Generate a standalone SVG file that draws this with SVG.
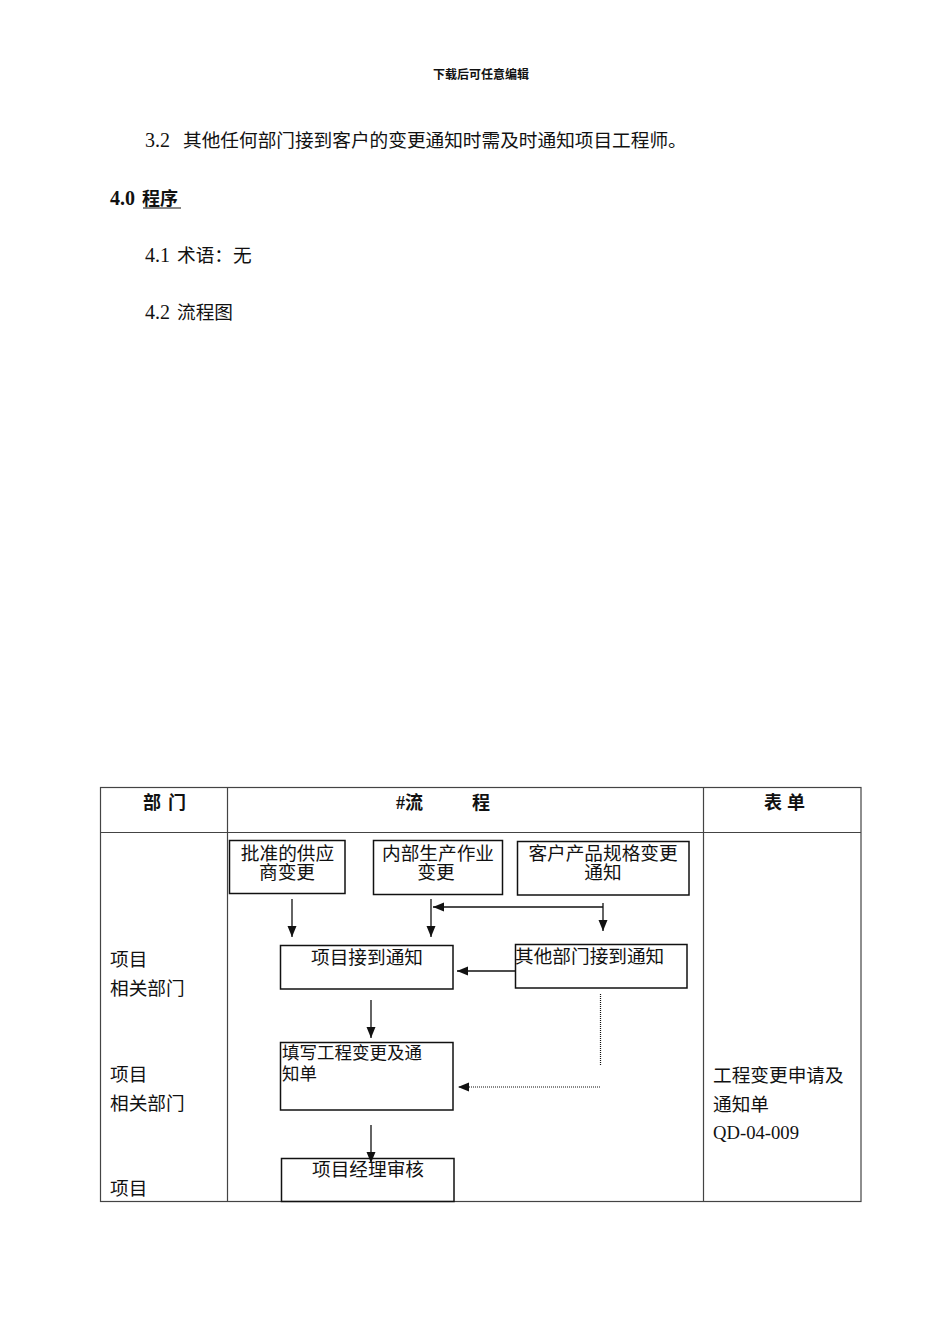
<svg xmlns="http://www.w3.org/2000/svg" width="950" height="1344" viewBox="0 0 950 1344">
<defs>
<style>
.t{font-family:"Liberation Serif","Noto Sans CJK SC",serif;font-size:18.67px;fill:#111;}
.ts{font-family:"Liberation Serif","Noto Sans CJK SC",serif;font-size:17.5px;fill:#111;}
.tb{font-family:"Liberation Serif","Noto Sans CJK SC",serif;font-size:18px;font-weight:bold;fill:#111;}
.hdr{font-family:"Noto Sans CJK SC",sans-serif;font-size:12px;font-weight:bold;fill:#111;}
.num{font-family:"Liberation Serif",serif;font-size:20px;fill:#111;}
.grid{stroke:#444;stroke-width:1.2;fill:none;}
.box{fill:none;stroke:#111;stroke-width:1.5;}
.ln{stroke:#111;stroke-width:1.3;fill:none;}
.dot{stroke:#111;stroke-width:1.2;fill:none;stroke-dasharray:1 1;}
.m{text-anchor:middle;}
</style>
<marker id="ah" markerUnits="userSpaceOnUse" markerWidth="12" markerHeight="10" refX="11" refY="4.5" orient="auto">
<path d="M0,0 L11,4.5 L0,9 z" fill="#111"/>
</marker>
</defs>
<rect width="950" height="1344" fill="#fff"/>

<text class="hdr m" x="481" y="79">下载后可任意编辑</text>
<text class="num" x="145" y="147">3.2</text>
<text class="t" x="183" y="147">其他任何部门接到客户的变更通知时需及时通知项目工程师。</text>
<text class="tb" x="110" y="205" style="font-size:20px">4.0</text>
<text class="tb" x="142" y="205">程序</text>
<line x1="143" y1="208" x2="181" y2="208" stroke="#111" stroke-width="1.2"/>
<text class="num" x="145" y="262">4.1</text>
<text class="t" x="177" y="262">术语：无</text>
<text class="num" x="145" y="319">4.2</text>
<text class="t" x="177" y="319">流程图</text>

<g id="table">
<rect class="grid" x="100.5" y="787.5" width="760.5" height="414"/>
<line class="grid" x1="100" y1="832.5" x2="861" y2="832.5"/>
<line class="grid" x1="227.5" y1="787" x2="227.5" y2="1201"/>
<line class="grid" x1="703.5" y1="787" x2="703.5" y2="1201"/>
<text class="tb" x="143" y="809">部</text>
<text class="tb" x="168" y="809">门</text>
<text class="tb" x="396" y="809">#流</text>
<text class="tb" x="472" y="809">程</text>
<text class="tb" x="764" y="809">表</text>
<text class="tb" x="787" y="809">单</text>
<text class="t" x="110" y="966">项目</text>
<text class="t" x="110" y="995">相关部门</text>
<text class="t" x="110" y="1081">项目</text>
<text class="t" x="110" y="1110">相关部门</text>
<text class="t" x="110" y="1195">项目</text>
<text class="t" x="713" y="1082">工程变更申请及</text>
<text class="t" x="713" y="1111">通知单</text>
<text class="t" x="713" y="1139">QD-04-009</text>
</g>

<g id="n1">
<rect class="box" x="229.5" y="840.5" width="115.5" height="53"/>
<text class="t m" x="287.5" y="860">批准的供应</text>
<text class="t m" x="287" y="879">商变更</text>
</g>
<g id="n2">
<rect class="box" x="373.5" y="840.5" width="129" height="54"/>
<text class="t m" x="438" y="860">内部生产作业</text>
<text class="t m" x="436" y="879">变更</text>
</g>
<g id="n3">
<rect class="box" x="517.5" y="841.5" width="171.5" height="53.5"/>
<text class="t m" x="603" y="860">客户产品规格变更</text>
<text class="t m" x="603" y="879">通知</text>
</g>
<g id="n4">
<rect class="box" x="280.5" y="945.5" width="172.5" height="43.5"/>
<text class="t m" x="367" y="964">项目接到通知</text>
</g>
<g id="n5">
<rect class="box" x="515.5" y="944.5" width="171.5" height="43.5"/>
<text class="t" x="515" y="963">其他部门接到通知</text>
</g>
<g id="n6">
<rect class="box" x="280.5" y="1042.5" width="172.5" height="67.5"/>
<text class="ts" x="282" y="1059">填写工程变更及通</text>
<text class="ts" x="282" y="1080">知单</text>
</g>
<g id="n7">
<rect class="box" x="281.5" y="1158.5" width="172.5" height="43"/>
<text class="t m" x="368" y="1176">项目经理审核</text>
</g>

<g id="connectors">
<line class="ln" x1="292" y1="899" x2="292" y2="937" marker-end="url(#ah)"/>
<line class="ln" x1="431" y1="899" x2="431" y2="937" marker-end="url(#ah)"/>
<line class="ln" x1="603" y1="907" x2="433" y2="907" marker-end="url(#ah)"/>
<line class="ln" x1="603" y1="903" x2="603" y2="931" marker-end="url(#ah)"/>
<line class="ln" x1="515" y1="971" x2="457" y2="971" marker-end="url(#ah)"/>
<line class="dot" x1="600.5" y1="994" x2="600.5" y2="1065"/>
<line class="dot" x1="600" y1="1087" x2="458" y2="1087" marker-end="url(#ah)"/>
<line class="ln" x1="371" y1="1000" x2="371" y2="1038" marker-end="url(#ah)"/>
<line class="ln" x1="371" y1="1125" x2="371" y2="1163" marker-end="url(#ah)"/>
</g>
</svg>
